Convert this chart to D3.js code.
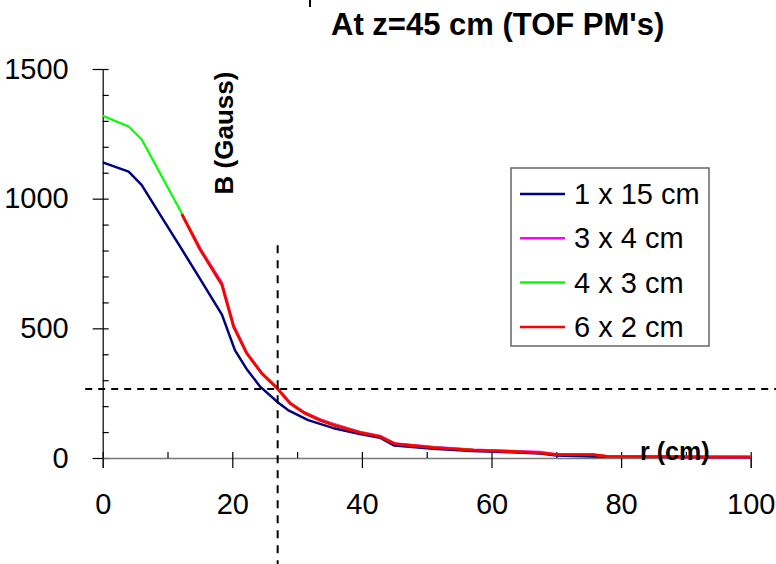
<!DOCTYPE html>
<html>
<head>
<meta charset="utf-8">
<script src="https://cdn.jsdelivr.net/npm/d3@7"></script>
<style>
  body { margin: 0; background: #fff; }
  svg { display: block; font-family: "Liberation Sans", Arial, sans-serif; }
</style>
</head>
<body>
<svg id="chart" width="776" height="564"></svg>
<script>
// Data: radius r (cm) and field B (Gauss)
const seriesNames = ["1 x 15 cm", "3 x 4 cm", "4 x 3 cm", "6 x 2 cm"];
const seriesColors = ["#000080", "#ff00ff", "#00ff00", "#ff0000"];

const rBlue = [0, 4, 6, 9, 12, 15, 18.4, 20.4, 22.3, 24.3, 27.1, 28.6, 31.7, 35.5, 39.7, 42.8, 45, 51, 57, 63, 67.5, 70, 75.7, 78, 85, 92, 100];
const bBlue = [1140, 1104, 1053, 933, 813, 692, 553, 416, 340, 275, 213, 185, 146, 116, 92, 78, 48, 36, 27, 22, 17, 10, 6, 5, 5, 4, 3];

const rRed = [12.2, 15, 18.4, 20.2, 22.2, 24.5, 26.9, 28.9, 31, 33.5, 35.6, 39.7, 42.8, 45.1, 51, 57.2, 63, 67.5, 70.1, 75.7, 77.8, 85, 92, 100];
const bRed = [940, 805, 667, 506, 404, 327, 269, 211, 175, 146, 127, 98, 82, 54, 40, 30, 25, 20, 13, 13, 6, 5, 4, 4];
const bMagenta = [942, 810, 675, 512, 408, 330, 272, 214, 178, 150, 131, 100, 85, 56, 42, 32, 27, 23, 14, 13, 7, 5, 4, 4];

const rGreen = [0, 4, 6].concat(rRed);
const bGreen = [1320, 1278, 1229, 944, 808, 670, 508, 406, 329, 271, 213, 177, 148, 129, 99, 84, 55, 41, 31, 26, 21, 13, 13, 6, 5, 4, 4];

const xTicks = [0, 20, 40, 60, 80, 100];
const yTicks = [0, 500, 1000, 1500];

// Reference cut lines (dashed)
const rCut = 27;
const bCut = 266;

const svg = d3.select("#chart");
const x = d3.scaleLinear().domain([0, 100]).range([102.7, 750.7]);
const y = d3.scaleLinear().domain([0, 1500]).range([458, 69]);

// Axes: major ticks cross the axis, minor ticks on the inside
const yOuter = svg.append("g").attr("transform", `translate(${x(0)},0)`)
  .call(d3.axisLeft(y).tickValues(yTicks).tickSize(10).tickPadding(24).tickFormat(d3.format("d")));
const yInner = svg.append("g").attr("transform", `translate(${x(0)},0)`)
  .call(d3.axisRight(y).tickValues(d3.range(0, 1501, 100)).tickSize(6).tickFormat(""));
const xOuter = svg.append("g").attr("transform", `translate(0,${y(0)})`)
  .call(d3.axisBottom(x).tickValues(xTicks).tickSize(10).tickPadding(25).tickFormat(d3.format("d")));
const xInner = svg.append("g").attr("transform", `translate(0,${y(0)})`)
  .call(d3.axisTop(x).tickValues(d3.range(0, 101, 10)).tickSize(6).tickFormat(""));

[yOuter, yInner, xOuter, xInner].forEach((g) => {
  g.selectAll(".tick line").attr("stroke", "#000").attr("stroke-width", 1.2);
  g.selectAll("text").attr("font-size", 29).attr("fill", "#000").attr("font-family", "Liberation Sans, Arial, sans-serif");
});
yOuter.select(".domain").attr("stroke", "#000").attr("stroke-width", 1.2);
yInner.select(".domain").remove();
xOuter.select(".domain").attr("stroke", "#777").attr("stroke-width", 1.5);
xInner.select(".domain").remove();

// Curves
const line = d3.line().x((d) => x(d[0])).y((d) => y(d[1]));
const curves = [
  { r: rBlue, b: bBlue, color: seriesColors[0], w: 2.5 },
  { r: rRed, b: bMagenta, color: seriesColors[1], w: 2.5 },
  { r: rGreen, b: bGreen, color: seriesColors[2], w: 2.2 },
  { r: rRed, b: bRed, color: seriesColors[3], w: 2.8 },
];
svg.append("g").selectAll("path").data(curves).join("path")
  .attr("fill", "none")
  .attr("stroke", (c) => c.color)
  .attr("stroke-width", (c) => c.w)
  .attr("stroke-linejoin", "round")
  .attr("d", (c) => line(c.r.map((r, i) => [r, c.b[i]])));

// Dashed guide lines
svg.append("line")
  .attr("x1", x(-2.7)).attr("x2", x(104))
  .attr("y1", y(bCut)).attr("y2", y(bCut))
  .attr("stroke", "#000").attr("stroke-width", 2).attr("stroke-dasharray", "7,6");
svg.append("line")
  .attr("x1", x(rCut)).attr("x2", x(rCut))
  .attr("y1", y(820)).attr("y2", y(-410))
  .attr("stroke", "#000").attr("stroke-width", 2).attr("stroke-dasharray", "8,7");

// small mark at the top edge
svg.append("line").attr("x1", 310).attr("x2", 310).attr("y1", 0).attr("y2", 7)
  .attr("stroke", "#000").attr("stroke-width", 2);

// Titles
svg.append("text").attr("x", 331).attr("y", 35)
  .attr("font-size", 31).attr("font-weight", "bold").text("At z=45 cm (TOF PM's)");
svg.append("text").attr("transform", "translate(233,133) rotate(-90)")
  .attr("text-anchor", "middle").attr("font-size", 26).attr("font-weight", "bold").text("B (Gauss)");
svg.append("text").attr("x", 640).attr("y", 460)
  .attr("font-size", 25).attr("font-weight", "bold").text("r (cm)");

// Legend
const legend = svg.append("g");
legend.append("rect").attr("x", 511).attr("y", 168).attr("width", 198).attr("height", 178)
  .attr("fill", "#fff").attr("stroke", "#666").attr("stroke-width", 1.5);
const items = legend.selectAll("g.item").data(seriesNames).join("g")
  .attr("class", "item")
  .attr("transform", (d, i) => `translate(0,${194 + i * 44.3})`);
items.append("line").attr("x1", 520).attr("x2", 565)
  .attr("stroke", (d, i) => seriesColors[i]).attr("stroke-width", 2.5);
items.append("text").attr("x", 574).attr("y", 10).attr("font-size", 29).text((d) => d);
</script>
</body>
</html>
